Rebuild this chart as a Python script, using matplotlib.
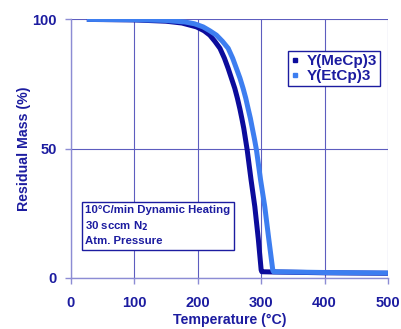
import matplotlib.pyplot as plt
from matplotlib.lines import Line2D

# Y(MeCp)3 TGA curve
temp_me = [25, 100, 150, 175, 198, 210, 219, 227, 235, 242, 248, 253, 258.4, 262.5, 266.3, 269.5,
           272.6, 275.3, 278, 284, 290, 295.5, 300, 301, 320, 400, 500]
mass_me = [100, 99.8, 99.3, 98.6, 97.1, 95.6, 93.9, 91.5, 88.8, 85, 81, 77.3, 73.3, 69.5, 65.5, 61.7,
           57.8, 53.6, 49.4, 38, 27.5, 15, 3, 2.3, 2.2, 1.9, 1.7]

# Y(EtCp)3 TGA curve
temp_et = [25, 100, 150, 180, 195, 208.5, 219, 229.5, 239, 248, 255, 261, 266.5, 271.5, 275.7, 279.4,
           283, 286.1, 289.5, 292.6, 299, 305.7, 312, 318.3, 319.5, 400, 500]
mass_et = [100, 99.9, 99.6, 99, 98.3, 97.1, 95.6, 93.9, 91.5, 88.8, 85, 81, 77.3, 73.3, 69.5, 65.5,
           61.7, 57.8, 53.6, 49.4, 38, 27.5, 15, 3, 2.3, 2.0, 1.8]

series_names = ['Y(MeCp)3', 'Y(EtCp)3']
series_colors = ['#0c0c9c', '#3d7ef0']
info_lines = ['10°C/min Dynamic Heating', '30 sccm N$_2$', 'Atm. Pressure']

text_color = '#1c1ca0'
grid_color = '#5d5dbf'

plt.rcParams['font.family'] = ['Liberation Sans', 'DejaVu Sans']
plt.rcParams['font.weight'] = 'bold'
plt.rcParams['mathtext.default'] = 'bf'

fig = plt.figure(figsize=(4.02, 3.29), dpi=100)
ax = fig.add_axes([0.1766, 0.156, 0.7884, 0.785])

ax.plot(temp_me, mass_me, color=series_colors[0], linewidth=3.6, solid_capstyle='butt')
ax.plot(temp_et, mass_et, color=series_colors[1], linewidth=3.6, solid_capstyle='butt')

ax.set_xlim(0, 500)
ax.set_ylim(0, 100)
ax.set_xticks([0, 100, 200, 300, 400, 500])
ax.set_yticks([0, 50, 100])
ax.grid(True, color=grid_color, linewidth=0.8)
ax.set_axisbelow(True)

for s in ['top', 'right']:
    ax.spines[s].set_visible(False)
for s in ['left', 'bottom']:
    ax.spines[s].set_color('#8c8cd4')
    ax.spines[s].set_linewidth(1.0)

ax.tick_params(axis='both', colors='#8c8cd4', length=4, width=1.0, labelsize=10.5, labelcolor=text_color)
ax.tick_params(axis='x', pad=9)
ax.tick_params(axis='y', pad=6)
for lab in ax.get_xticklabels() + ax.get_yticklabels():
    lab.set_fontweight('bold')

ax.set_xlabel('Temperature (°C)', color=text_color, fontsize=10.2, fontweight='bold', labelpad=2)
ax.set_ylabel('Residual Mass (%)', color=text_color, fontsize=10.2, fontweight='bold', labelpad=1)

handles = [Line2D([], [], linestyle='none', marker='s', markersize=3, color=c) for c in series_colors]
leg = ax.legend(handles, series_names, loc='upper right', bbox_to_anchor=(0.975, 0.877),
                fancybox=False, framealpha=1, edgecolor=text_color, handlelength=0.5,
                handletextpad=0.5, borderpad=0.2, labelspacing=0.05, borderaxespad=0,
                prop={'weight': 'bold', 'size': 11})
for t in leg.get_texts():
    t.set_color(text_color)
leg.get_frame().set_linewidth(1.0)

ax.text(0.045, 0.28, '\n'.join(info_lines), transform=ax.transAxes, fontsize=8.2,
        fontweight='bold', color=text_color, va='top', ha='left', linespacing=1.4,
        bbox=dict(boxstyle='square,pad=0.3', facecolor='white', edgecolor=text_color, linewidth=1.0))

plt.savefig('out.png', dpi=100)
